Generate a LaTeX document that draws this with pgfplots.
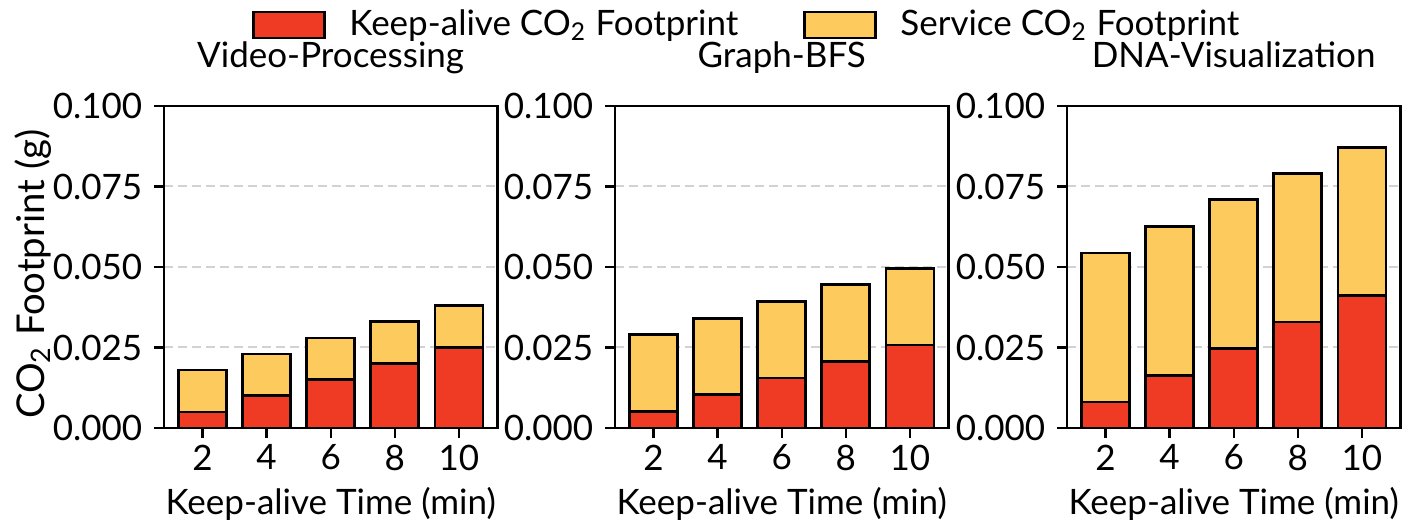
\documentclass[border=0pt]{standalone}
\usepackage{fontspec}
\setmainfont{Lato}
\usepackage{pgfplots}
\pgfplotsset{compat=1.18}
\definecolor{kred}{HTML}{EF3B23}
\definecolor{syel}{HTML}{FDCB5D}
\pgfplotsset{
 mystyle/.style={
  width=100pt, height=96.6pt, scale only axis,
  ybar stacked, bar width=14.4pt,
  xmin=-0.6, xmax=4.6, ymin=0, ymax=0.1,
  xtick={0,1,2,3,4}, xticklabels={2,4,6,8,10},
  ytick={0,0.025,0.05,0.075,0.1},
  yticklabel style={/pgf/number format/.cd, fixed, fixed zerofill, precision=3},
  /pgf/number format/assume math mode=true,
  scaled y ticks=false,
  tick align=outside, major tick length=3pt,
  xtick pos=bottom, ytick pos=left,
  ymajorgrids, grid style={gray!35, line width=0.6pt, dash pattern=on 2.6pt off 1.6pt},
  axis line style={line width=0.7pt}, tick style={black, line width=0.7pt},
  every axis plot/.append style={draw=black, line width=0.8pt},
  font=\fontsize{10.5}{12}\selectfont,
  xticklabel style={yshift=1.5pt},
  xlabel={Keep-alive Time (min)},
  xlabel style={at={(0.5,0)}, anchor=base, yshift=-26.1pt},
  title style={at={(0.5,1)}, anchor=base, yshift=5.4pt},
 }
}
\begin{document}
\begin{tikzpicture}
\useasboundingbox (0,0) rectangle (422.4pt,157.5pt);
\begin{axis}[mystyle, at={(49.2pt,29.1pt)}, anchor=south west,
  title={Video-Processing},
  ylabel={CO\textsubscript{2} Footprint (g)},
  ylabel style={at={(-0.393,0.478)}, anchor=center, font=\fontsize{11.5}{13}\selectfont},
  legend style={at={(1.755,1.2516)}, anchor=center, legend columns=2, draw=none, fill=none,
    font=\fontsize{10.5}{12}\selectfont,
    /tikz/every even column/.append style={column sep=17.4pt}},
  legend image code/.code={\draw[#1, line width=0.8pt] (0pt,-3.9pt) rectangle (21.3pt,3.9pt); \path (26.4pt,0pt);},
  ]
\addplot[fill=kred] coordinates {(0,0.005) (1,0.010) (2,0.015) (3,0.020) (4,0.025)};
\addlegendentry{Keep-alive CO\textsubscript{2} Footprint}
\addplot[fill=syel] coordinates {(0,0.013) (1,0.013) (2,0.013) (3,0.013) (4,0.013)};
\addlegendentry{Service CO\textsubscript{2} Footprint}
\end{axis}
\begin{axis}[mystyle, at={(184.5pt,29.1pt)}, anchor=south west,
  title={Graph-BFS}]
\addplot[fill=kred] coordinates {(0,0.0052) (1,0.0103) (2,0.0155) (3,0.0206) (4,0.0258)};
\addplot[fill=syel] coordinates {(0,0.0238) (1,0.0238) (2,0.0238) (3,0.0240) (4,0.0238)};
\end{axis}
\begin{axis}[mystyle, at={(320.1pt,29.1pt)}, anchor=south west,
  title={DNA-Visualization}]
\addplot[fill=kred] coordinates {(0,0.0081) (1,0.0164) (2,0.0247) (3,0.0329) (4,0.0412)};
\addplot[fill=syel] coordinates {(0,0.0462) (1,0.0461) (2,0.0462) (3,0.0461) (4,0.0459)};
\end{axis}
\end{tikzpicture}
\end{document}
